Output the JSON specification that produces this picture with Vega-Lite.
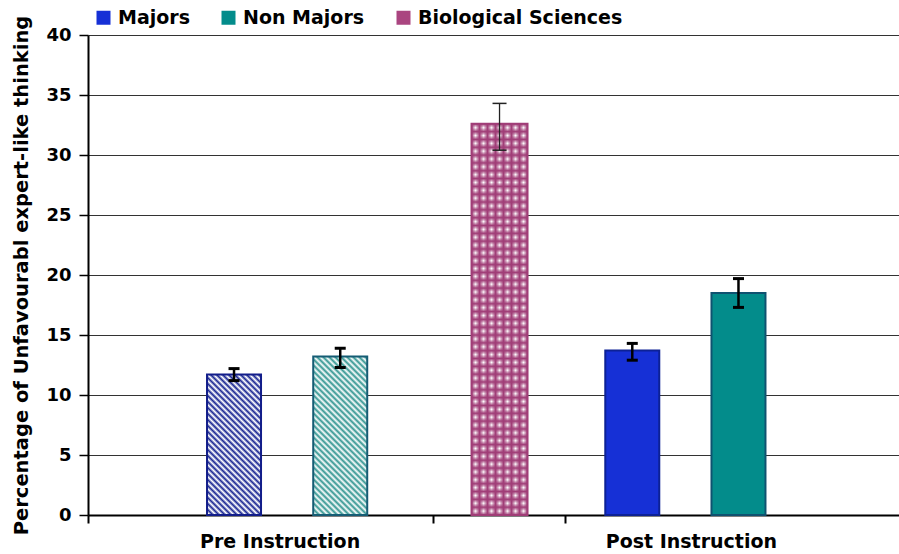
{
  "$schema": "https://vega.github.io/schema/vega-lite/v6.json",
  "width": 811,
  "height": 480,
  "autosize": {"type": "none"},
  "padding": {"left": 88, "top": 35, "right": 0, "bottom": 39},
  "background": "#ffffff",
  "config": {
    "font": "DejaVu Sans",
    "view": {"stroke": null},
    "axisY": {
      "values": [0, 5, 10, 15, 20, 25, 30, 35, 40],
      "titleFont": "DejaVu Sans", "titleFontSize": 19.5, "titleFontWeight": "bold", "titleColor": "#000000", "titlePadding": 14,
      "labelFont": "DejaVu Sans", "labelFontSize": 18, "labelFontWeight": "bold", "labelColor": "#000000", "labelPadding": 8,
      "tickSize": 9, "tickWidth": 1.5, "tickColor": "#000000",
      "domainColor": "#000000", "domainWidth": 2,
      "grid": true, "gridColor": "#333333", "gridWidth": 1
    }
  },
  "data": {
    "values": [
      {"bar": "Pre Instruction · Majors", "phase": "Pre Instruction", "group": "Majors", "value": 11.7, "lo": 11.2, "hi": 12.2},
      {"bar": "Pre Instruction · Non Majors", "phase": "Pre Instruction", "group": "Non Majors", "value": 13.2, "lo": 12.3, "hi": 13.9},
      {"bar": "Biological Sciences", "phase": "Comparison", "group": "Biological Sciences", "value": 32.6, "lo": 30.4, "hi": 34.3},
      {"bar": "Post Instruction · Majors", "phase": "Post Instruction", "group": "Majors", "value": 13.7, "lo": 12.9, "hi": 14.3},
      {"bar": "Post Instruction · Non Majors", "phase": "Post Instruction", "group": "Non Majors", "value": 18.5, "lo": 17.3, "hi": 19.7}
    ]
  },
  "encoding": {
    "x": {
      "field": "bar",
      "type": "nominal",
      "title": null,
      "sort": null,
      "scale": {
        "type": "band",
        "domain": ["_0", "_1", "_2", "_3", "_4", "Pre Instruction · Majors", "_6", "Pre Instruction", "_8", "Pre Instruction · Non Majors", "_10", "_11", "_12", "_13", "_14", "Biological Sciences", "_16", "_17", "_18", "_19", "Post Instruction · Majors", "_21", "Post Instruction", "_23", "Post Instruction · Non Majors", "_25", "_26", "_27", "_28", "_29"],
        "paddingInner": 0,
        "paddingOuter": 0.273,
        "align": 0
      },
      "axis": {
        "values": ["_0", "Pre Instruction", "_13", "_18", "Post Instruction"],
        "bandPosition": 0,
        "labelExpr": "datum.value == 'Pre Instruction' || datum.value == 'Post Instruction' ? datum.value : ''",
        "labelOffset": {"condition": {"test": "datum.value == 'Post Instruction'", "value": 6}, "value": -7},
        "tickOpacity": {"condition": {"test": "datum.value == 'Pre Instruction' || datum.value == 'Post Instruction'", "value": 0}, "value": 1},
        "tickSize": 8,
        "tickWidth": 2,
        "tickColor": "#000000",
        "domainColor": "#000000",
        "domainWidth": 2,
        "labelFont": "DejaVu Sans",
        "labelFontSize": 19,
        "labelFontWeight": "bold",
        "labelColor": "#000000",
        "labelPadding": 9,
        "labelAngle": 0,
        "labelOverlap": false,
        "grid": false
      }
    }
  },
  "layer": [
    {
      "transform": [{"filter": "datum.bar == 'Pre Instruction · Majors'"}],
      "mark": {
        "type": "bar", "width": 54, "stroke": "#121d8a", "strokeWidth": 2,
        "fill": {"gradient": "linear", "x1": 0, "y1": 1, "x2": 0.5727, "y2": -0.4891, "stops": [
          {"offset": 0, "color": "#1d2a94"}, {"offset": 0.0125, "color": "#ffffff"}, {"offset": 0.025, "color": "#1d2a94"}, {"offset": 0.0375, "color": "#ffffff"},
          {"offset": 0.05, "color": "#1d2a94"}, {"offset": 0.0625, "color": "#ffffff"}, {"offset": 0.075, "color": "#1d2a94"}, {"offset": 0.0875, "color": "#ffffff"},
          {"offset": 0.1, "color": "#1d2a94"}, {"offset": 0.1125, "color": "#ffffff"}, {"offset": 0.125, "color": "#1d2a94"}, {"offset": 0.1375, "color": "#ffffff"},
          {"offset": 0.15, "color": "#1d2a94"}, {"offset": 0.1625, "color": "#ffffff"}, {"offset": 0.175, "color": "#1d2a94"}, {"offset": 0.1875, "color": "#ffffff"},
          {"offset": 0.2, "color": "#1d2a94"}, {"offset": 0.2125, "color": "#ffffff"}, {"offset": 0.225, "color": "#1d2a94"}, {"offset": 0.2375, "color": "#ffffff"},
          {"offset": 0.25, "color": "#1d2a94"}, {"offset": 0.2625, "color": "#ffffff"}, {"offset": 0.275, "color": "#1d2a94"}, {"offset": 0.2875, "color": "#ffffff"},
          {"offset": 0.3, "color": "#1d2a94"}, {"offset": 0.3125, "color": "#ffffff"}, {"offset": 0.325, "color": "#1d2a94"}, {"offset": 0.3375, "color": "#ffffff"},
          {"offset": 0.35, "color": "#1d2a94"}, {"offset": 0.3625, "color": "#ffffff"}, {"offset": 0.375, "color": "#1d2a94"}, {"offset": 0.3875, "color": "#ffffff"},
          {"offset": 0.4, "color": "#1d2a94"}, {"offset": 0.4125, "color": "#ffffff"}, {"offset": 0.425, "color": "#1d2a94"}, {"offset": 0.4375, "color": "#ffffff"},
          {"offset": 0.45, "color": "#1d2a94"}, {"offset": 0.4625, "color": "#ffffff"}, {"offset": 0.475, "color": "#1d2a94"}, {"offset": 0.4875, "color": "#ffffff"},
          {"offset": 0.5, "color": "#1d2a94"}, {"offset": 0.5125, "color": "#ffffff"}, {"offset": 0.525, "color": "#1d2a94"}, {"offset": 0.5375, "color": "#ffffff"},
          {"offset": 0.55, "color": "#1d2a94"}, {"offset": 0.5625, "color": "#ffffff"}, {"offset": 0.575, "color": "#1d2a94"}, {"offset": 0.5875, "color": "#ffffff"},
          {"offset": 0.6, "color": "#1d2a94"}, {"offset": 0.6125, "color": "#ffffff"}, {"offset": 0.625, "color": "#1d2a94"}, {"offset": 0.6375, "color": "#ffffff"},
          {"offset": 0.65, "color": "#1d2a94"}, {"offset": 0.6625, "color": "#ffffff"}, {"offset": 0.675, "color": "#1d2a94"}, {"offset": 0.6875, "color": "#ffffff"},
          {"offset": 0.7, "color": "#1d2a94"}, {"offset": 0.7125, "color": "#ffffff"}, {"offset": 0.725, "color": "#1d2a94"}, {"offset": 0.7375, "color": "#ffffff"},
          {"offset": 0.75, "color": "#1d2a94"}, {"offset": 0.7625, "color": "#ffffff"}, {"offset": 0.775, "color": "#1d2a94"}, {"offset": 0.7875, "color": "#ffffff"},
          {"offset": 0.8, "color": "#1d2a94"}, {"offset": 0.8125, "color": "#ffffff"}, {"offset": 0.825, "color": "#1d2a94"}, {"offset": 0.8375, "color": "#ffffff"},
          {"offset": 0.85, "color": "#1d2a94"}, {"offset": 0.8625, "color": "#ffffff"}, {"offset": 0.875, "color": "#1d2a94"}, {"offset": 0.8875, "color": "#ffffff"},
          {"offset": 0.9, "color": "#1d2a94"}
        ]}
      },
      "encoding": {
        "y": {
          "field": "value", "type": "quantitative", "scale": {"domain": [0, 40], "nice": false},
          "axis": {"title": "Percentage of Unfavourabl expert-like thinking"}
        }
      }
    },
    {
      "transform": [{"filter": "datum.bar == 'Pre Instruction · Non Majors'"}],
      "mark": {
        "type": "bar", "width": 54, "stroke": "#155c74", "strokeWidth": 2,
        "fill": {"gradient": "linear", "x1": 0, "y1": 1, "x2": 0.4627, "y2": -0.3574, "stops": [
          {"offset": 0, "color": "#2f9490"}, {"offset": 0.0125, "color": "#ffffff"}, {"offset": 0.025, "color": "#2f9490"}, {"offset": 0.0375, "color": "#ffffff"},
          {"offset": 0.05, "color": "#2f9490"}, {"offset": 0.0625, "color": "#ffffff"}, {"offset": 0.075, "color": "#2f9490"}, {"offset": 0.0875, "color": "#ffffff"},
          {"offset": 0.1, "color": "#2f9490"}, {"offset": 0.1125, "color": "#ffffff"}, {"offset": 0.125, "color": "#2f9490"}, {"offset": 0.1375, "color": "#ffffff"},
          {"offset": 0.15, "color": "#2f9490"}, {"offset": 0.1625, "color": "#ffffff"}, {"offset": 0.175, "color": "#2f9490"}, {"offset": 0.1875, "color": "#ffffff"},
          {"offset": 0.2, "color": "#2f9490"}, {"offset": 0.2125, "color": "#ffffff"}, {"offset": 0.225, "color": "#2f9490"}, {"offset": 0.2375, "color": "#ffffff"},
          {"offset": 0.25, "color": "#2f9490"}, {"offset": 0.2625, "color": "#ffffff"}, {"offset": 0.275, "color": "#2f9490"}, {"offset": 0.2875, "color": "#ffffff"},
          {"offset": 0.3, "color": "#2f9490"}, {"offset": 0.3125, "color": "#ffffff"}, {"offset": 0.325, "color": "#2f9490"}, {"offset": 0.3375, "color": "#ffffff"},
          {"offset": 0.35, "color": "#2f9490"}, {"offset": 0.3625, "color": "#ffffff"}, {"offset": 0.375, "color": "#2f9490"}, {"offset": 0.3875, "color": "#ffffff"},
          {"offset": 0.4, "color": "#2f9490"}, {"offset": 0.4125, "color": "#ffffff"}, {"offset": 0.425, "color": "#2f9490"}, {"offset": 0.4375, "color": "#ffffff"},
          {"offset": 0.45, "color": "#2f9490"}, {"offset": 0.4625, "color": "#ffffff"}, {"offset": 0.475, "color": "#2f9490"}, {"offset": 0.4875, "color": "#ffffff"},
          {"offset": 0.5, "color": "#2f9490"}, {"offset": 0.5125, "color": "#ffffff"}, {"offset": 0.525, "color": "#2f9490"}, {"offset": 0.5375, "color": "#ffffff"},
          {"offset": 0.55, "color": "#2f9490"}, {"offset": 0.5625, "color": "#ffffff"}, {"offset": 0.575, "color": "#2f9490"}, {"offset": 0.5875, "color": "#ffffff"},
          {"offset": 0.6, "color": "#2f9490"}, {"offset": 0.6125, "color": "#ffffff"}, {"offset": 0.625, "color": "#2f9490"}, {"offset": 0.6375, "color": "#ffffff"},
          {"offset": 0.65, "color": "#2f9490"}, {"offset": 0.6625, "color": "#ffffff"}, {"offset": 0.675, "color": "#2f9490"}, {"offset": 0.6875, "color": "#ffffff"},
          {"offset": 0.7, "color": "#2f9490"}, {"offset": 0.7125, "color": "#ffffff"}, {"offset": 0.725, "color": "#2f9490"}, {"offset": 0.7375, "color": "#ffffff"},
          {"offset": 0.75, "color": "#2f9490"}, {"offset": 0.7625, "color": "#ffffff"}, {"offset": 0.775, "color": "#2f9490"}, {"offset": 0.7875, "color": "#ffffff"},
          {"offset": 0.8, "color": "#2f9490"}, {"offset": 0.8125, "color": "#ffffff"}, {"offset": 0.825, "color": "#2f9490"}, {"offset": 0.8375, "color": "#ffffff"},
          {"offset": 0.85, "color": "#2f9490"}, {"offset": 0.8625, "color": "#ffffff"}, {"offset": 0.875, "color": "#2f9490"}, {"offset": 0.8875, "color": "#ffffff"},
          {"offset": 0.9, "color": "#2f9490"}
        ]}
      },
      "encoding": {"y": {"field": "value", "type": "quantitative", "scale": {"domain": [0, 40], "nice": false}}}
    },
    {
      "transform": [{"filter": "datum.bar == 'Biological Sciences'"}],
      "mark": {"type": "bar", "width": 56, "fill": "#ffffff", "strokeWidth": 0},
      "encoding": {"y": {"field": "value", "type": "quantitative", "scale": {"domain": [0, 40], "nice": false}}}
    },
    {
      "transform": [{"filter": "datum.bar == 'Biological Sciences'"}],
      "mark": {
        "type": "bar", "width": 56, "strokeWidth": 0,
        "fill": {"gradient": "linear", "x1": 0, "y1": 0, "x2": 1, "y2": 0, "stops": [
          {"offset": 0, "color": "#a03d77"}, {"offset": 0.0714, "color": "rgba(160,61,119,0)"}, {"offset": 0.1429, "color": "#a03d77"}, {"offset": 0.2143, "color": "rgba(160,61,119,0)"},
          {"offset": 0.2857, "color": "#a03d77"}, {"offset": 0.3571, "color": "rgba(160,61,119,0)"}, {"offset": 0.4286, "color": "#a03d77"}, {"offset": 0.5, "color": "rgba(160,61,119,0)"},
          {"offset": 0.5714, "color": "#a03d77"}, {"offset": 0.6429, "color": "rgba(160,61,119,0)"}, {"offset": 0.7143, "color": "#a03d77"}, {"offset": 0.7857, "color": "rgba(160,61,119,0)"},
          {"offset": 0.8571, "color": "#a03d77"}, {"offset": 0.9286, "color": "rgba(160,61,119,0)"}, {"offset": 1, "color": "#a03d77"}
        ]}
      },
      "encoding": {"y": {"field": "value", "type": "quantitative", "scale": {"domain": [0, 40], "nice": false}}}
    },
    {
      "transform": [{"filter": "datum.bar == 'Biological Sciences'"}],
      "mark": {
        "type": "bar", "width": 56, "stroke": "#a03d77", "strokeWidth": 2,
        "fill": {"gradient": "linear", "x1": 0, "y1": 0, "x2": 0, "y2": 1, "stops": [
          {"offset": 0, "color": "#a03d77"}, {"offset": 0.01, "color": "rgba(160,61,119,0)"}, {"offset": 0.02, "color": "#a03d77"}, {"offset": 0.03, "color": "rgba(160,61,119,0)"},
          {"offset": 0.04, "color": "#a03d77"}, {"offset": 0.05, "color": "rgba(160,61,119,0)"}, {"offset": 0.06, "color": "#a03d77"}, {"offset": 0.07, "color": "rgba(160,61,119,0)"},
          {"offset": 0.08, "color": "#a03d77"}, {"offset": 0.09, "color": "rgba(160,61,119,0)"}, {"offset": 0.1, "color": "#a03d77"}, {"offset": 0.11, "color": "rgba(160,61,119,0)"},
          {"offset": 0.12, "color": "#a03d77"}, {"offset": 0.13, "color": "rgba(160,61,119,0)"}, {"offset": 0.14, "color": "#a03d77"}, {"offset": 0.15, "color": "rgba(160,61,119,0)"},
          {"offset": 0.16, "color": "#a03d77"}, {"offset": 0.17, "color": "rgba(160,61,119,0)"}, {"offset": 0.18, "color": "#a03d77"}, {"offset": 0.19, "color": "rgba(160,61,119,0)"},
          {"offset": 0.2, "color": "#a03d77"}, {"offset": 0.21, "color": "rgba(160,61,119,0)"}, {"offset": 0.22, "color": "#a03d77"}, {"offset": 0.23, "color": "rgba(160,61,119,0)"},
          {"offset": 0.24, "color": "#a03d77"}, {"offset": 0.25, "color": "rgba(160,61,119,0)"}, {"offset": 0.26, "color": "#a03d77"}, {"offset": 0.27, "color": "rgba(160,61,119,0)"},
          {"offset": 0.28, "color": "#a03d77"}, {"offset": 0.29, "color": "rgba(160,61,119,0)"}, {"offset": 0.3, "color": "#a03d77"}, {"offset": 0.31, "color": "rgba(160,61,119,0)"},
          {"offset": 0.32, "color": "#a03d77"}, {"offset": 0.33, "color": "rgba(160,61,119,0)"}, {"offset": 0.34, "color": "#a03d77"}, {"offset": 0.35, "color": "rgba(160,61,119,0)"},
          {"offset": 0.36, "color": "#a03d77"}, {"offset": 0.37, "color": "rgba(160,61,119,0)"}, {"offset": 0.38, "color": "#a03d77"}, {"offset": 0.39, "color": "rgba(160,61,119,0)"},
          {"offset": 0.4, "color": "#a03d77"}, {"offset": 0.41, "color": "rgba(160,61,119,0)"}, {"offset": 0.42, "color": "#a03d77"}, {"offset": 0.43, "color": "rgba(160,61,119,0)"},
          {"offset": 0.44, "color": "#a03d77"}, {"offset": 0.45, "color": "rgba(160,61,119,0)"}, {"offset": 0.46, "color": "#a03d77"}, {"offset": 0.47, "color": "rgba(160,61,119,0)"},
          {"offset": 0.48, "color": "#a03d77"}, {"offset": 0.49, "color": "rgba(160,61,119,0)"}, {"offset": 0.5, "color": "#a03d77"}, {"offset": 0.51, "color": "rgba(160,61,119,0)"},
          {"offset": 0.52, "color": "#a03d77"}, {"offset": 0.53, "color": "rgba(160,61,119,0)"}, {"offset": 0.54, "color": "#a03d77"}, {"offset": 0.55, "color": "rgba(160,61,119,0)"},
          {"offset": 0.56, "color": "#a03d77"}, {"offset": 0.57, "color": "rgba(160,61,119,0)"}, {"offset": 0.58, "color": "#a03d77"}, {"offset": 0.59, "color": "rgba(160,61,119,0)"},
          {"offset": 0.6, "color": "#a03d77"}, {"offset": 0.61, "color": "rgba(160,61,119,0)"}, {"offset": 0.62, "color": "#a03d77"}, {"offset": 0.63, "color": "rgba(160,61,119,0)"},
          {"offset": 0.64, "color": "#a03d77"}, {"offset": 0.65, "color": "rgba(160,61,119,0)"}, {"offset": 0.66, "color": "#a03d77"}, {"offset": 0.67, "color": "rgba(160,61,119,0)"},
          {"offset": 0.68, "color": "#a03d77"}, {"offset": 0.69, "color": "rgba(160,61,119,0)"}, {"offset": 0.7, "color": "#a03d77"}, {"offset": 0.71, "color": "rgba(160,61,119,0)"},
          {"offset": 0.72, "color": "#a03d77"}, {"offset": 0.73, "color": "rgba(160,61,119,0)"}, {"offset": 0.74, "color": "#a03d77"}, {"offset": 0.75, "color": "rgba(160,61,119,0)"},
          {"offset": 0.76, "color": "#a03d77"}, {"offset": 0.77, "color": "rgba(160,61,119,0)"}, {"offset": 0.78, "color": "#a03d77"}, {"offset": 0.79, "color": "rgba(160,61,119,0)"},
          {"offset": 0.8, "color": "#a03d77"}, {"offset": 0.81, "color": "rgba(160,61,119,0)"}, {"offset": 0.82, "color": "#a03d77"}, {"offset": 0.83, "color": "rgba(160,61,119,0)"},
          {"offset": 0.84, "color": "#a03d77"}, {"offset": 0.85, "color": "rgba(160,61,119,0)"}, {"offset": 0.86, "color": "#a03d77"}, {"offset": 0.87, "color": "rgba(160,61,119,0)"},
          {"offset": 0.88, "color": "#a03d77"}, {"offset": 0.89, "color": "rgba(160,61,119,0)"}, {"offset": 0.9, "color": "#a03d77"}, {"offset": 0.91, "color": "rgba(160,61,119,0)"},
          {"offset": 0.92, "color": "#a03d77"}, {"offset": 0.93, "color": "rgba(160,61,119,0)"}, {"offset": 0.94, "color": "#a03d77"}, {"offset": 0.95, "color": "rgba(160,61,119,0)"},
          {"offset": 0.96, "color": "#a03d77"}, {"offset": 0.97, "color": "rgba(160,61,119,0)"}, {"offset": 0.98, "color": "#a03d77"}, {"offset": 0.99, "color": "rgba(160,61,119,0)"},
          {"offset": 1, "color": "#a03d77"}
        ]}
      },
      "encoding": {"y": {"field": "value", "type": "quantitative", "scale": {"domain": [0, 40], "nice": false}}}
    },
    {
      "transform": [{"filter": "datum.phase == 'Post Instruction'"}],
      "mark": {"type": "bar", "width": 54, "strokeWidth": 2},
      "encoding": {
        "y": {"field": "value", "type": "quantitative", "scale": {"domain": [0, 40], "nice": false}},
        "fill": {
          "field": "group", "type": "nominal",
          "scale": {"domain": ["Majors", "Non Majors", "Biological Sciences"], "range": ["#1630d6", "#038c8b", "#aa4580"]},
          "legend": {
            "title": null, "orient": "none", "legendX": 6, "legendY": -27, "direction": "horizontal",
            "symbolType": "square", "symbolSize": 196, "symbolStrokeWidth": 0, "symbolOpacity": 1,
            "labelFont": "DejaVu Sans", "labelFontSize": 19, "labelFontWeight": "bold", "labelColor": "#000000",
            "labelOffset": 5, "labelLimit": 0, "columnPadding": 29, "padding": 0
          }
        },
        "stroke": {
          "field": "group", "type": "nominal", "legend": null,
          "scale": {"domain": ["Majors", "Non Majors", "Biological Sciences"], "range": ["#0c2196", "#0f5270", "#a03d77"]}
        }
      }
    },
    {
      "transform": [{"filter": "datum.bar != 'Biological Sciences'"}],
      "mark": {"type": "rule", "color": "#000000", "strokeWidth": 2.5},
      "encoding": {
        "y": {"field": "lo", "type": "quantitative", "scale": {"domain": [0, 40], "nice": false}},
        "y2": {"field": "hi"}
      }
    },
    {
      "transform": [{"filter": "datum.bar != 'Biological Sciences'"}],
      "mark": {"type": "tick", "color": "#000000", "size": 11, "thickness": 3, "opacity": 1},
      "encoding": {"y": {"field": "lo", "type": "quantitative", "scale": {"domain": [0, 40], "nice": false}}}
    },
    {
      "transform": [{"filter": "datum.bar != 'Biological Sciences'"}],
      "mark": {"type": "tick", "color": "#000000", "size": 11, "thickness": 3, "opacity": 1},
      "encoding": {"y": {"field": "hi", "type": "quantitative", "scale": {"domain": [0, 40], "nice": false}}}
    },
    {
      "transform": [{"filter": "datum.bar == 'Biological Sciences'"}],
      "mark": {"type": "rule", "color": "#222222", "strokeWidth": 1.3},
      "encoding": {
        "y": {"field": "lo", "type": "quantitative", "scale": {"domain": [0, 40], "nice": false}},
        "y2": {"field": "hi"}
      }
    },
    {
      "transform": [{"filter": "datum.bar == 'Biological Sciences'"}],
      "mark": {"type": "tick", "color": "#222222", "size": 14, "thickness": 1.5, "opacity": 1},
      "encoding": {"y": {"field": "lo", "type": "quantitative", "scale": {"domain": [0, 40], "nice": false}}}
    },
    {
      "transform": [{"filter": "datum.bar == 'Biological Sciences'"}],
      "mark": {"type": "tick", "color": "#222222", "size": 14, "thickness": 1.5, "opacity": 1},
      "encoding": {"y": {"field": "hi", "type": "quantitative", "scale": {"domain": [0, 40], "nice": false}}}
    }
  ]
}
